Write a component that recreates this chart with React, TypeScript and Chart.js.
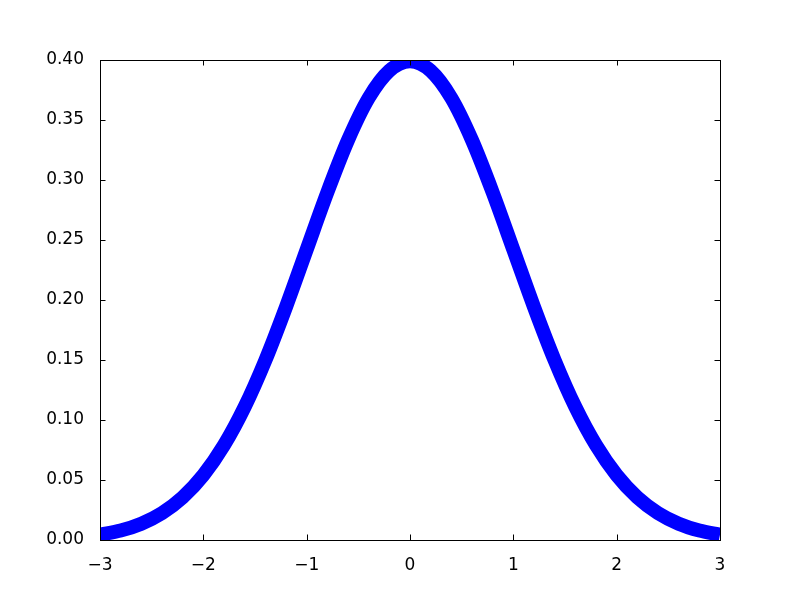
import React, { useEffect, useRef } from "react";
import { Chart, registerables } from "chart.js";

Chart.register(...registerables);

// Values (x from -3 to 3)
const xValues = [-3.0, -2.8, -2.6, -2.4, -2.2, -2.0, -1.8, -1.6, -1.4, -1.2, -1.0, -0.8, -0.6, -0.4, -0.2, 0.0, 0.2, 0.4, 0.6, 0.8, 1.0, 1.2, 1.4, 1.6, 1.8, 2.0, 2.2, 2.4, 2.6, 2.8, 3.0];
const yValues = [0.0044, 0.0079, 0.0136, 0.0224, 0.0355, 0.054, 0.079, 0.1109, 0.1497, 0.1942, 0.242, 0.2897, 0.3332, 0.3683, 0.391, 0.3989, 0.391, 0.3683, 0.3332, 0.2897, 0.242, 0.1942, 0.1497, 0.1109, 0.079, 0.054, 0.0355, 0.0224, 0.0136, 0.0079, 0.0044];
const xTicks = [-3, -2, -1, 0, 1, 2, 3];
const yTicks = [0.0, 0.05, 0.1, 0.15, 0.2, 0.25, 0.3, 0.35, 0.4];

const FONT = "DejaVu Sans";

const frameTicks = {
  id: "frameTicks",
  afterDatasetsDraw(chart: any) {
    const { ctx, chartArea, scales } = chart;
    const { left, right, top, bottom } = chartArea;
    const len = 5.5;
    ctx.save();
    ctx.strokeStyle = "#000";
    ctx.lineWidth = 1;
    ctx.beginPath();
    for (const v of xTicks) {
      const px = Math.round(scales.x.getPixelForValue(v)) + 0.5;
      ctx.moveTo(px, bottom);
      ctx.lineTo(px, bottom - len);
      ctx.moveTo(px, top);
      ctx.lineTo(px, top + len);
    }
    for (const v of yTicks) {
      const py = Math.round(scales.y.getPixelForValue(v)) + 0.5;
      ctx.moveTo(left, py);
      ctx.lineTo(left + len, py);
      ctx.moveTo(right, py);
      ctx.lineTo(right - len, py);
    }
    ctx.stroke();
    ctx.strokeRect(left + 0.5, top + 0.5, right - left, bottom - top);
    ctx.restore();
  },
};

export default function App() {
  const ref = useRef<HTMLCanvasElement>(null);
  useEffect(() => {
    const chart = new Chart(ref.current!, {
      type: "line",
      data: {
        datasets: [
          {
            data: xValues.map((x, i) => ({ x, y: yValues[i] })),
            borderColor: "#0000ff",
            borderWidth: 14,
            pointRadius: 0,
            cubicInterpolationMode: "monotone",
            fill: false,
          },
        ],
      },
      options: {
        responsive: false,
        animation: false,
        devicePixelRatio: 1,
        layout: { padding: { left: 0, right: 80, top: 60, bottom: 0 } },
        plugins: { legend: { display: false }, tooltip: { enabled: false } },
        scales: {
          x: {
            type: "linear",
            min: -3,
            max: 3,
            afterFit: (s: any) => { s.height = 60; },
            afterBuildTicks: (s: any) => { s.ticks = xTicks.map((v) => ({ value: v })); },
            grid: { display: false },
            border: { display: false },
            ticks: {
              color: "#000",
              padding: 7,
              font: { family: FONT, size: 17 },
              callback: (v: any) => (Number(v) < 0 ? "\u2212" + Math.abs(Number(v)) : String(v)),
              maxRotation: 0,
            },
          },
          y: {
            type: "linear",
            min: 0,
            max: 0.4,
            afterFit: (s: any) => { s.width = 100; },
            afterBuildTicks: (s: any) => { s.ticks = yTicks.map((v) => ({ value: v })); },
            grid: { display: false },
            border: { display: false },
            ticks: {
              color: "#000",
              padding: 8,
              font: { family: FONT, size: 17 },
              callback: (v: any) => Number(v).toFixed(2),
            },
          },
        },
      },
      plugins: [frameTicks],
    } as any);
    return () => chart.destroy();
  }, []);
  return (
    <div style={{ position: "fixed", left: 0, top: 0, width: 800, height: 600, background: "#fff" }}>
      <canvas ref={ref} width={800} height={600} style={{ width: 800, height: 600 }} />
    </div>
  );
}
